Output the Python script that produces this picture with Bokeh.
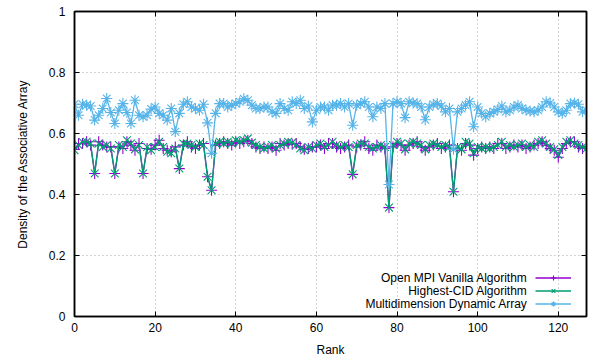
from bokeh.plotting import figure
from bokeh.models import (LinearAxis, FixedTicker, NumeralTickFormatter, Range1d,
                          Legend, LegendItem, Label, CustomJSTickFormatter)
from bokeh.embed import file_html
from bokeh.resources import INLINE

ranks = list(range(128))

vanilla = [
    0.548, 0.567, 0.567, 0.573, 0.562, 0.469, 0.573, 0.562, 0.556, 0.556,
    0.469, 0.556, 0.551, 0.573, 0.562, 0.545, 0.567, 0.469, 0.551, 0.548,
    0.562, 0.578, 0.551, 0.545, 0.540, 0.556, 0.485, 0.562, 0.573, 0.556,
    0.551, 0.562, 0.567, 0.458, 0.414, 0.562, 0.567, 0.573, 0.567, 0.562,
    0.573, 0.567, 0.573, 0.578, 0.567, 0.556, 0.551, 0.556, 0.551, 0.556,
    0.545, 0.567, 0.562, 0.567, 0.565, 0.567, 0.556, 0.548, 0.551, 0.556,
    0.556, 0.562, 0.551, 0.567, 0.567, 0.556, 0.551, 0.556, 0.562, 0.466,
    0.556, 0.562, 0.573, 0.551, 0.545, 0.562, 0.556, 0.551, 0.357, 0.556,
    0.567, 0.562, 0.545, 0.562, 0.567, 0.573, 0.556, 0.545, 0.556, 0.562,
    0.567, 0.551, 0.556, 0.562, 0.409, 0.551, 0.545, 0.567, 0.562, 0.529,
    0.551, 0.556, 0.551, 0.556, 0.551, 0.567, 0.567, 0.551, 0.556, 0.562,
    0.556, 0.562, 0.551, 0.556, 0.562, 0.567, 0.573, 0.562, 0.551, 0.545,
    0.522, 0.551, 0.567, 0.573, 0.573, 0.556, 0.551, 0.556,
]

hcid = [
    0.545, 0.562, 0.572, 0.573, 0.567, 0.469, 0.567, 0.556, 0.562, 0.551,
    0.469, 0.562, 0.556, 0.578, 0.567, 0.548, 0.562, 0.469, 0.556, 0.545,
    0.556, 0.573, 0.556, 0.540, 0.535, 0.551, 0.485, 0.567, 0.567, 0.562,
    0.556, 0.567, 0.562, 0.458, 0.414, 0.567, 0.573, 0.567, 0.573, 0.567,
    0.578, 0.573, 0.578, 0.584, 0.570, 0.562, 0.556, 0.551, 0.556, 0.562,
    0.551, 0.562, 0.567, 0.573, 0.570, 0.562, 0.551, 0.545, 0.556, 0.551,
    0.562, 0.567, 0.556, 0.562, 0.573, 0.562, 0.556, 0.562, 0.556, 0.466,
    0.562, 0.567, 0.567, 0.556, 0.551, 0.556, 0.562, 0.556, 0.357, 0.562,
    0.573, 0.567, 0.548, 0.567, 0.573, 0.567, 0.562, 0.548, 0.562, 0.567,
    0.562, 0.556, 0.562, 0.556, 0.409, 0.556, 0.548, 0.573, 0.567, 0.535,
    0.556, 0.551, 0.556, 0.551, 0.556, 0.562, 0.573, 0.556, 0.562, 0.556,
    0.562, 0.567, 0.556, 0.562, 0.556, 0.573, 0.578, 0.567, 0.556, 0.548,
    0.530, 0.556, 0.573, 0.578, 0.567, 0.562, 0.556, 0.551,
]

mda = [
    0.696, 0.660, 0.696, 0.693, 0.690, 0.644, 0.660, 0.682, 0.715, 0.669,
    0.633, 0.676, 0.698, 0.669, 0.633, 0.709, 0.660, 0.655, 0.660, 0.680,
    0.687, 0.666, 0.660, 0.644, 0.682, 0.606, 0.666, 0.696, 0.704, 0.687,
    0.682, 0.676, 0.696, 0.635, 0.535, 0.666, 0.698, 0.698, 0.687, 0.693,
    0.698, 0.704, 0.714, 0.709, 0.693, 0.682, 0.682, 0.687, 0.687, 0.671,
    0.666, 0.698, 0.682, 0.676, 0.704, 0.698, 0.709, 0.682, 0.690, 0.638,
    0.676, 0.687, 0.687, 0.676, 0.693, 0.693, 0.698, 0.687, 0.698, 0.627,
    0.693, 0.698, 0.704, 0.687, 0.655, 0.687, 0.682, 0.698, 0.433, 0.698,
    0.704, 0.698, 0.652, 0.704, 0.700, 0.698, 0.687, 0.645, 0.687, 0.696,
    0.698, 0.690, 0.671, 0.682, 0.548, 0.671, 0.682, 0.693, 0.704, 0.622,
    0.687, 0.666, 0.655, 0.666, 0.671, 0.679, 0.690, 0.671, 0.676, 0.687,
    0.693, 0.682, 0.676, 0.674, 0.671, 0.676, 0.687, 0.704, 0.700, 0.687,
    0.671, 0.666, 0.676, 0.698, 0.700, 0.696, 0.671, 0.676,
]

series_labels = ["Open MPI Vanilla Algorithm", "Highest-CID Algorithm",
                 "Multidimension Dynamic Array"]
x_ticks = [0, 20, 40, 60, 80, 100, 120]
y_ticks = [0, 0.2, 0.4, 0.6, 0.8, 1.0]

FONT = "Liberation Sans"
FS = "12px"
colors = ["#9400d3", "#009e73", "#56b4e9"]
markers = ["cross", "x", "asterisk"]

p = figure(width=595, height=359, output_backend="svg", toolbar_location=None,
           x_range=Range1d(0, 127), y_range=Range1d(0, 1),
           min_border_left=74, min_border_right=9, min_border_top=11,
           min_border_bottom=43)
p.background_fill_color = "white"
p.border_fill_color = "white"
p.outline_line_color = "black"
p.outline_line_width = 1.5

for ax, ticks in ((p.xaxis[0], x_ticks), (p.yaxis[0], y_ticks)):
    ax.ticker = FixedTicker(ticks=ticks)
    ax.major_tick_in = 5
    ax.major_tick_out = 0
    ax.minor_tick_in = 0
    ax.minor_tick_out = 0
    ax.axis_line_color = "black"
    ax.axis_line_width = 1.5
    ax.major_tick_line_width = 1
    ax.major_label_text_font = FONT
    ax.major_label_text_font_size = FS
    ax.major_label_text_color = "black"
    ax.axis_label_text_font = FONT
    ax.axis_label_text_font_size = FS
    ax.axis_label_text_font_style = "normal"
    ax.axis_label_text_color = "black"

p.xaxis.axis_label = "Rank"
p.xaxis.major_label_standoff = 6
p.xaxis.axis_label_standoff = 8
p.yaxis.axis_label = "Density of the Associative Array"
p.yaxis.major_label_standoff = 9
p.yaxis.axis_label_standoff = 16
p.yaxis.formatter = NumeralTickFormatter(format="0.[0]")

for loc, ticks in (("above", x_ticks), ("right", y_ticks)):
    ax = LinearAxis(ticker=FixedTicker(ticks=ticks), major_tick_in=5,
                    major_tick_out=0, minor_tick_in=0, minor_tick_out=0,
                    formatter=CustomJSTickFormatter(code="return ''"),
                    major_label_standoff=0,
                    axis_line_color="black", axis_line_width=1.5)
    p.add_layout(ax, loc)

for g, ticks in ((p.xgrid[0], x_ticks), (p.ygrid[0], y_ticks)):
    g.ticker = FixedTicker(ticks=ticks)
    g.grid_line_color = "#a8a8a8"
    g.grid_line_dash = "1 3"
    g.grid_line_width = 1

items = []
for data, c, m in zip((vanilla, hcid, mda), colors, markers):
    ln = p.line(ranks, data, line_color=c, line_width=1.3)
    sc = p.scatter(ranks, data, marker=m, size=11, line_color=c, line_width=1.1)
    items.append(LegendItem(label="", renderers=[ln, sc]))

legend = Legend(items=items, location=(461, 6), orientation="vertical",
                glyph_width=36, glyph_height=13, label_width=0, label_height=13,
                label_standoff=0, spacing=0, padding=0, margin=0,
                border_line_color=None, background_fill_alpha=0)
p.add_layout(legend)

for txt, yy in zip(series_labels, [39, 26, 13]):
    p.add_layout(Label(x=453, y=yy, x_units="screen", y_units="screen", text=txt,
                       text_align="right", text_baseline="middle",
                       text_font=FONT, text_font_size=FS, text_color="black"))

open("out.html", "w").write(file_html(p, INLINE, title=""))
